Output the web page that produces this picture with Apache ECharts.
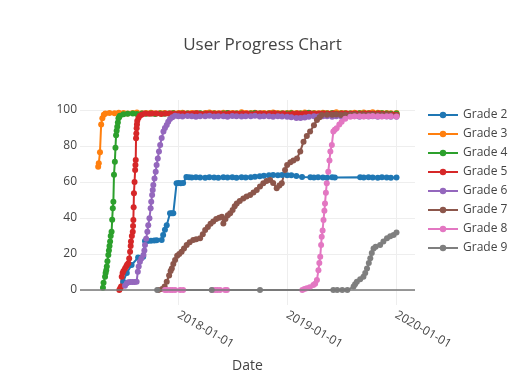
<!DOCTYPE html>
<html><head><meta charset="utf-8">
<script src="https://cdn.jsdelivr.net/npm/echarts@6/dist/echarts.min.js"></script>
<style>html,body{margin:0;padding:0;background:#fff}#c{width:525px;height:385px}</style>
</head><body><div id="c"></div><script>
const seriesNames = ['Grade 2','Grade 3','Grade 4','Grade 5','Grade 6','Grade 7','Grade 8','Grade 9'];
const seriesColors = ['#1f77b4','#ff7f0e','#2ca02c','#d62728','#9467bd','#8c564b','#e377c2','#7f7f7f'];
const yTickValues = [0,20,40,60,80,100];
const xTickLabels = ['2018-01-01','2019-01-01','2020-01-01'];

const grade2 = [['2017-06-30',4.6],['2017-07-12',9.5],['2017-07-28',13.9],['2017-08-19',18.0],['2017-09-05',18.5],['2017-09-11',27.2],['2017-09-20',27.2],['2017-10-01',27.4],['2017-10-12',27.5],['2017-10-20',27.6],['2017-11-06',27.8],['2017-11-11',30.6],['2017-11-17',33.5],['2017-11-23',36.0],['2017-12-04',42.6],['2017-12-10',42.6],['2017-12-15',42.6],['2017-12-26',59.3],['2018-01-02',59.4],['2018-01-09',59.3],['2018-01-17',59.4],['2018-01-28',62.8],['2018-02-06',62.6],['2018-02-15',62.5],['2018-03-01',62.6],['2018-03-15',62.5],['2018-04-01',62.4],['2018-04-15',62.6],['2018-05-01',62.5],['2018-05-15',62.4],['2018-06-01',62.6],['2018-06-15',62.5],['2018-07-01',62.6],['2018-07-15',62.4],['2018-08-01',62.6],['2018-08-15',62.5],['2018-09-01',62.7],['2018-09-15',62.9],['2018-10-01',63.2],['2018-10-15',63.5],['2018-11-01',63.7],['2018-11-15',63.9],['2018-12-01',63.8],['2018-12-15',63.9],['2019-01-01',63.8],['2019-01-15',63.7],['2019-02-01',63.4],['2019-02-20',62.8],['2019-03-20',62.6],['2019-04-01',62.5],['2019-04-15',62.6],['2019-05-01',62.5],['2019-05-15',62.4],['2019-06-01',62.6],['2019-06-10',62.5],['2019-09-03',62.6],['2019-09-15',62.5],['2019-10-01',62.6],['2019-10-15',62.5],['2019-11-01',62.4],['2019-11-15',62.6],['2019-12-01',62.5],['2019-12-15',62.4],['2020-01-03',62.5]];

const grade3 = [['2017-04-07',68.5],['2017-04-09',70.4],['2017-04-13',76.5],['2017-04-17',92.0],['2017-04-21',95.4],['2017-04-26',97.4],['2017-05-01',98.0],['2017-05-15',98.3],['2017-06-01',98.2],['2017-06-15',98.5],['2017-07-01',98.3],['2017-07-15',98.1],['2017-08-01',98.4],['2017-08-15',98.6],['2017-09-01',98.2],['2017-09-15',98.3],['2017-10-01',98.5],['2017-10-15',98.2],['2017-11-01',98.4],['2017-11-15',98.3],['2017-12-01',98.1],['2017-12-15',98.4],['2018-01-01',98.3],['2018-01-15',98.5],['2018-02-01',98.2],['2018-02-15',98.4],['2018-03-01',98.3],['2018-03-15',98.1],['2018-04-01',98.4],['2018-04-15',98.6],['2018-05-01',98.3],['2018-05-15',98.2],['2018-06-01',98.5],['2018-06-15',98.3],['2018-07-01',98.4],['2018-07-15',98.2],['2018-08-01',98.7],['2018-08-15',98.3],['2018-09-01',98.4],['2018-09-15',98.5],['2018-10-01',98.2],['2018-10-15',98.4],['2018-11-01',98.3],['2018-11-15',98.6],['2018-12-01',98.4],['2018-12-15',98.2],['2019-01-01',98.3],['2019-01-15',98.5],['2019-02-01',98.4],['2019-02-15',98.2],['2019-03-01',98.6],['2019-03-15',98.3],['2019-04-01',98.4],['2019-04-15',98.2],['2019-05-01',98.5],['2019-05-15',98.3],['2019-06-01',98.4],['2019-06-15',98.7],['2019-07-01',98.3],['2019-07-15',98.4],['2019-08-01',98.2],['2019-08-15',98.5],['2019-09-01',98.3],['2019-09-15',98.6],['2019-10-01',98.4],['2019-10-15',98.8],['2019-11-01',98.5],['2019-11-15',98.3],['2019-12-01',98.4],['2019-12-15',98.2],['2020-01-03',98.3]];

const grade4 = [['2017-04-23',1.3],['2017-04-25',4.0],['2017-04-30',7.4],['2017-05-02',9.5],['2017-05-04',11.0],['2017-05-06',13.0],['2017-05-08',16.0],['2017-05-11',19.4],['2017-05-13',22.0],['2017-05-15',24.5],['2017-05-17',27.0],['2017-05-19',30.0],['2017-05-22',32.4],['2017-05-24',39.0],['2017-05-26',45.4],['2017-05-28',49.0],['2017-05-30',64.0],['2017-06-02',71.3],['2017-06-04',79.0],['2017-06-06',86.0],['2017-06-08',88.5],['2017-06-10',90.7],['2017-06-12',93.0],['2017-06-14',95.4],['2017-06-16',96.0],['2017-06-19',96.8],['2017-07-01',97.7],['2017-07-15',97.9],['2017-08-01',98.0],['2017-08-15',97.8],['2017-09-01',98.1],['2017-09-15',97.9],['2017-10-01',98.0],['2017-10-15',97.8],['2017-11-01',98.1],['2017-11-15',97.9],['2017-12-01',98.0],['2017-12-15',98.2],['2018-01-01',97.9],['2018-01-15',98.0],['2018-02-01',98.1],['2018-02-15',97.8],['2018-03-01',98.0],['2018-03-15',98.2],['2018-04-01',97.9],['2018-04-15',98.0],['2018-05-01',98.1],['2018-05-15',97.9],['2018-06-01',98.0],['2018-06-15',98.3],['2018-07-01',97.9],['2018-07-15',98.0],['2018-08-01',98.1],['2018-08-15',97.8],['2018-09-01',98.0],['2018-09-15',98.4],['2018-10-01',98.0],['2018-10-15',97.9],['2018-11-01',98.1],['2018-11-15',98.0],['2018-12-01',97.9],['2018-12-15',98.1],['2019-01-01',98.0],['2019-01-15',98.2],['2019-02-01',97.9],['2019-02-15',98.0],['2019-03-01',98.1],['2019-03-15',98.5],['2019-04-01',98.0],['2019-04-15',97.9],['2019-05-01',98.1],['2019-05-15',98.0],['2019-06-01',98.2],['2019-06-15',97.9],['2019-07-01',98.0],['2019-07-15',98.1],['2019-08-01',98.0],['2019-08-15',97.9],['2019-09-01',98.2],['2019-09-15',98.0],['2019-10-01',98.1],['2019-10-15',97.9],['2019-11-01',98.0],['2019-11-15',98.2],['2019-12-01',98.0],['2019-12-15',97.9],['2020-01-03',98.0]];

const grade5 = [['2017-06-17',0.0],['2017-06-20',1.0],['2017-06-23',1.9],['2017-06-25',7.4],['2017-06-28',9.5],['2017-07-01',10.5],['2017-07-06',12.0],['2017-07-10',13.0],['2017-07-13',14.0],['2017-07-17',14.8],['2017-07-20',17.5],['2017-07-23',21.3],['2017-07-25',24.5],['2017-07-26',27.0],['2017-07-29',30.0],['2017-08-01',32.4],['2017-08-02',35.5],['2017-08-03',38.9],['2017-08-04',46.0],['2017-08-05',53.7],['2017-08-07',60.0],['2017-08-09',66.7],['2017-08-10',69.5],['2017-08-11',72.2],['2017-08-12',84.3],['2017-08-13',87.0],['2017-08-14',89.8],['2017-08-15',92.0],['2017-08-16',93.9],['2017-08-20',95.5],['2017-08-25',96.8],['2017-09-01',97.5],['2017-09-11',98.0],['2017-09-25',97.9],['2017-10-05',98.1],['2017-10-20',98.0],['2017-11-05',97.8],['2017-11-20',98.0],['2017-12-05',98.1],['2017-12-20',97.9],['2018-01-05',98.0],['2018-01-20',98.1],['2018-02-05',97.9],['2018-02-20',98.0],['2018-03-05',98.2],['2018-03-20',97.8],['2018-04-05',98.0],['2018-04-20',98.1],['2018-05-05',97.9],['2018-05-20',98.0],['2018-06-05',97.8],['2018-06-20',98.1],['2018-07-05',98.0],['2018-07-20',97.9],['2018-08-05',98.1],['2018-08-20',98.0],['2018-09-05',97.7],['2018-09-20',98.0],['2018-10-05',98.1],['2018-10-20',97.9],['2018-11-05',98.0],['2018-11-20',98.2],['2018-12-05',97.8],['2018-12-20',98.0],['2019-01-05',97.6],['2019-01-20',97.9],['2019-02-05',98.0],['2019-02-20',97.8],['2019-03-05',98.0],['2019-03-20',98.1],['2019-04-05',97.9],['2019-04-20',98.0],['2019-05-05',98.1],['2019-05-20',97.9],['2019-06-05',98.0],['2019-06-20',97.8],['2019-07-05',98.0],['2019-07-20',98.1],['2019-08-05',97.9],['2019-08-20',98.0],['2019-09-05',97.8],['2019-09-20',98.0],['2019-10-05',98.1],['2019-10-20',97.9],['2019-11-05',98.0],['2019-11-20',97.8],['2019-12-05',97.6],['2019-12-20',97.5],['2020-01-03',97.4]];

const grade6 = [['2017-07-06',2.4],['2017-07-12',3.8],['2017-07-17',4.3],['2017-07-24',4.4],['2017-07-31',4.4],['2017-08-07',4.5],['2017-08-14',4.6],['2017-08-18',10.2],['2017-08-21',13.0],['2017-08-25',15.7],['2017-08-30',17.5],['2017-09-06',19.4],['2017-09-09',22.0],['2017-09-11',25.0],['2017-09-15',28.5],['2017-09-19',32.4],['2017-09-22',36.0],['2017-09-26',39.8],['2017-09-30',45.4],['2017-10-02',49.0],['2017-10-05',52.8],['2017-10-07',55.5],['2017-10-09',58.3],['2017-10-13',62.0],['2017-10-17',65.7],['2017-10-20',69.5],['2017-10-24',73.1],['2017-10-28',77.0],['2017-11-01',80.6],['2017-11-06',84.5],['2017-11-12',88.0],['2017-11-17',90.0],['2017-11-23',91.7],['2017-11-28',93.5],['2017-12-04',95.0],['2017-12-12',96.0],['2017-12-21',96.8],['2018-01-01',96.6],['2018-01-15',96.4],['2018-02-01',96.7],['2018-02-15',96.5],['2018-03-01',96.3],['2018-03-15',96.6],['2018-04-01',96.5],['2018-04-15',96.8],['2018-05-01',96.4],['2018-05-15',96.6],['2018-06-01',96.5],['2018-06-15',96.3],['2018-07-01',96.7],['2018-07-15',96.5],['2018-08-01',96.4],['2018-08-15',96.6],['2018-09-01',96.5],['2018-09-15',96.8],['2018-10-01',96.4],['2018-10-15',96.6],['2018-11-01',96.5],['2018-11-15',96.3],['2018-12-01',96.6],['2018-12-15',96.4],['2019-01-01',96.3],['2019-01-15',96.0],['2019-02-01',95.6],['2019-02-15',95.5],['2019-03-01',95.9],['2019-03-15',96.3],['2019-04-01',96.5],['2019-04-15',96.4],['2019-05-01',96.6],['2019-05-15',96.5],['2019-06-01',96.3],['2019-06-15',96.6],['2019-07-01',96.5],['2019-07-15',96.4],['2019-08-01',96.7],['2019-08-15',96.5],['2019-09-01',96.3],['2019-09-15',96.6],['2019-10-01',96.4],['2019-10-15',96.5],['2019-11-01',96.3],['2019-11-15',96.6],['2019-12-01',96.4],['2019-12-15',96.2],['2020-01-03',96.3]];

const grade7 = [['2017-10-26',0.0],['2017-11-08',0.5],['2017-11-16',2.0],['2017-11-23',4.6],['2017-12-01',8.0],['2017-12-06',10.5],['2017-12-10',12.0],['2017-12-15',14.5],['2017-12-21',16.7],['2017-12-28',19.0],['2018-01-04',20.0],['2018-01-12',21.3],['2018-01-20',23.0],['2018-01-29',25.0],['2018-02-08',26.5],['2018-02-20',27.8],['2018-03-02',28.2],['2018-03-15',28.7],['2018-03-24',31.0],['2018-04-01',33.3],['2018-04-10',35.0],['2018-04-19',36.8],['2018-04-28',38.0],['2018-05-08',39.5],['2018-05-18',40.2],['2018-05-27',40.7],['2018-06-01',37.0],['2018-06-08',39.5],['2018-06-16',41.5],['2018-06-24',42.6],['2018-07-02',44.5],['2018-07-09',46.5],['2018-07-16',48.1],['2018-07-26',49.5],['2018-08-07',50.9],['2018-08-18',52.0],['2018-08-30',52.8],['2018-09-10',54.2],['2018-09-21',55.6],['2018-10-02',57.5],['2018-10-13',59.3],['2018-10-24',60.5],['2018-11-05',61.1],['2018-11-15',59.5],['2018-11-27',56.5],['2018-12-06',58.0],['2018-12-14',59.3],['2018-12-25',66.7],['2019-01-01',69.4],['2019-01-12',71.0],['2019-01-22',72.0],['2019-02-03',73.1],['2019-02-14',77.0],['2019-02-25',82.4],['2019-03-08',85.5],['2019-03-19',88.0],['2019-04-01',91.5],['2019-04-11',94.4],['2019-04-20',96.0],['2019-04-27',97.2],['2019-05-15',97.4],['2019-06-01',97.3],['2019-06-15',97.5],['2019-07-01',97.2],['2019-07-15',97.4],['2019-08-01',97.3],['2019-08-15',97.5],['2019-09-01',97.2],['2019-09-15',97.4],['2019-10-01',97.3],['2019-10-15',97.5],['2019-11-01',97.2],['2019-11-15',97.4],['2019-12-01',97.3],['2019-12-15',97.1],['2020-01-03',97.0]];

const grade8 = [['2017-11-17',0.0],['2017-11-24',0.0],['2017-12-04',0.0],['2017-12-12',0.0],['2017-12-21',0.0],['2018-01-07',0.0],['2018-01-17',0.0],['2018-04-25',0.0],['2018-05-04',0.0],['2018-05-12',0.0],['2018-05-21',0.0],['2018-06-07',0.0],['2018-06-13',0.0],['2019-02-21',0.0],['2019-02-28',0.6],['2019-03-08',1.0],['2019-03-18',1.5],['2019-03-30',2.8],['2019-04-05',3.5],['2019-04-11',5.6],['2019-04-16',11.0],['2019-04-19',15.0],['2019-04-22',18.5],['2019-04-25',25.0],['2019-04-27',29.6],['2019-04-30',33.0],['2019-05-03',38.9],['2019-05-06',44.0],['2019-05-08',48.0],['2019-05-11',54.0],['2019-05-14',59.3],['2019-05-19',65.7],['2019-05-23',72.0],['2019-05-26',76.9],['2019-05-31',80.6],['2019-06-05',88.0],['2019-06-10',89.0],['2019-06-16',89.8],['2019-06-25',92.0],['2019-07-03',93.5],['2019-07-15',95.2],['2019-08-01',96.3],['2019-08-15',96.5],['2019-09-01',96.6],['2019-09-15',96.4],['2019-10-01',96.5],['2019-10-15',96.7],['2019-11-01',96.5],['2019-11-15',96.4],['2019-12-01',96.6],['2019-12-15',96.5],['2020-01-03',96.4]];

const grade9 = [['2017-10-22',0.0],['2018-04-23',0.0],['2018-10-02',0.0],['2019-06-05',0.0],['2019-06-18',0.0],['2019-07-05',0.0],['2019-07-22',0.0],['2019-08-12',1.9],['2019-08-17',3.2],['2019-08-23',4.6],['2019-09-03',6.0],['2019-09-14',7.4],['2019-09-20',9.5],['2019-09-26',12.0],['2019-10-02',15.0],['2019-10-07',17.6],['2019-10-12',20.5],['2019-10-18',23.1],['2019-10-25',24.0],['2019-11-09',25.0],['2019-11-20',27.0],['2019-12-02',28.7],['2019-12-13',29.8],['2019-12-24',30.6],['2020-01-03',32.0]];

const allSeries = [grade2, grade3, grade4, grade5, grade6, grade7, grade8, grade9];

function toTime(s) { const p = s.split('-').map(Number); return new Date(p[0], p[1] - 1, p[2]).getTime(); }
function pad(n) { return (n < 10 ? '0' : '') + n; }
function fmtDate(v) { const d = new Date(v); return d.getFullYear() + '-' + pad(d.getMonth() + 1) + '-' + pad(d.getDate()); }

const FONT = 'Open Sans';
const chart = echarts.init(document.getElementById('c'), null, { renderer: 'canvas' });
const xTickTimes = xTickLabels.map(toTime);

chart.setOption({
  animation: false,
  backgroundColor: '#fff',
  title: { text: 'User Progress Chart', left: 'center', top: 32,
    textStyle: { fontFamily: FONT, fontSize: 17, fontWeight: 'normal', color: '#444' } },
  legend: { orient: 'vertical', left: 422, top: 104, itemWidth: 30, itemHeight: 8, itemGap: 7,
    data: seriesNames, textStyle: { fontFamily: FONT, fontSize: 12, color: '#444' } },
  grid: { left: 80, right: 110, top: 100, bottom: 80, containLabel: false },
  xAxis: {
    type: 'value', min: toTime('2017-02-05'), max: toTime('2020-03-05'),
    axisLine: { show: false }, axisTick: { show: false, customValues: xTickTimes },
    axisLabel: { customValues: xTickTimes, rotate: -30, margin: 9, formatter: v => fmtDate(v),
      fontFamily: FONT, fontSize: 12, color: '#444' },
    splitLine: { show: true, lineStyle: { color: '#eee', width: 1 } },
    name: 'Date', nameLocation: 'middle', nameGap: 54,
    nameTextStyle: { fontFamily: FONT, fontSize: 14, color: '#444' }
  },
  yAxis: {
    type: 'value', min: -8.33, max: 105.56,
    axisLine: { show: false }, axisTick: { show: false, customValues: yTickValues },
    axisLabel: { customValues: yTickValues, margin: 3, fontFamily: FONT, fontSize: 12, color: '#444' },
    splitLine: { show: true, lineStyle: { color: '#eee', width: 1 } }
  },
  series: seriesNames.map((name, i) => ({
    name: name, type: 'line',
    data: allSeries[i].map(p => [toTime(p[0]), p[1]]),
    symbol: 'circle', symbolSize: 6, showAllSymbol: true,
    lineStyle: { width: 2, color: seriesColors[i] },
    itemStyle: { color: seriesColors[i], borderWidth: 0 },
    emphasis: { disabled: true },
    markLine: i === 0 ? { silent: true, symbol: 'none', label: { show: false },
      lineStyle: { color: '#777', width: 1.5, type: 'solid' }, data: [{ yAxis: 0 }] } : undefined
  }))
});
</script></body></html>
